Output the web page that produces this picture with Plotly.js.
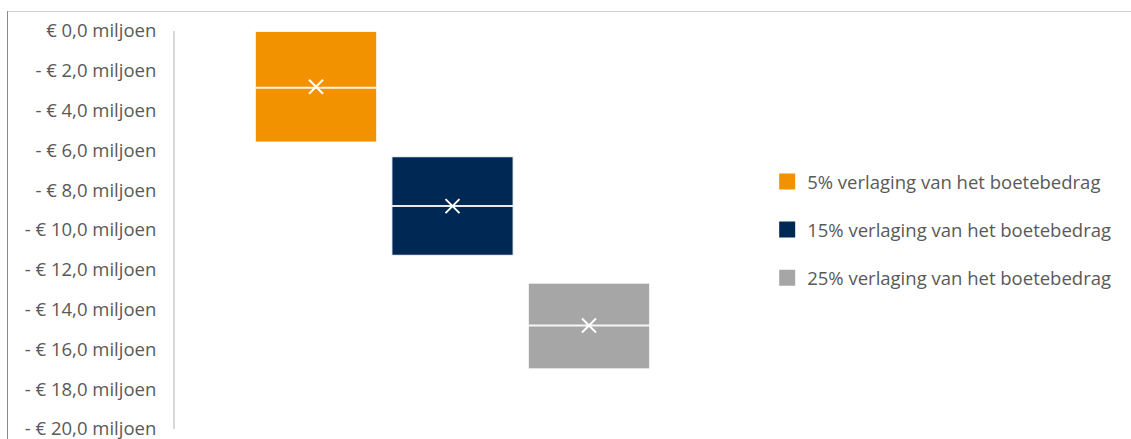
<!DOCTYPE html>
<html>
<head>
<meta charset="utf-8">
<script src="https://cdn.plot.ly/plotly-3.0.1.min.js"></script>
<style>
  html, body { margin: 0; padding: 0; background: #fff; }
  #wrap { position: relative; width: 1131px; height: 439px; overflow: hidden; }
  #chart { width: 1131px; height: 439px; }
  #frameTop { position: absolute; left: 7px; top: 11px; width: 1124px; height: 0; border-top: 1px solid #d0d0d0; }
  #frameLeft { position: absolute; left: 7px; top: 11px; width: 0; height: 428px; border-left: 1px solid #8a8a8a; }
</style>
</head>
<body>
<div id="wrap">
  <div id="chart"></div>
  <div id="frameTop"></div>
  <div id="frameLeft"></div>
</div>
<script>
// Series (values in millions of euros)
const seriesNames = ["5% verlaging van het boetebedrag", "15% verlaging van het boetebedrag", "25% verlaging van het boetebedrag"];
const seriesColors = ["#F39200", "#002855", "#A6A6A6"];
const q1Values = [-5.6, -11.3, -17.0];
const medianValues = [-2.85, -8.8, -14.8];
const q3Values = [0.0, -6.3, -12.65];
const meanValues = [-2.8, -8.8, -14.8];
const lowerFences = [-5.6, -11.3, -17.0];
const upperFences = [0.0, -6.3, -12.65];

// Y ticks
const tickValues = [0, -2, -4, -6, -8, -10, -12, -14, -16, -18, -20];
const tickLabels = ["€ 0,0 miljoen", "- € 2,0 miljoen", "- € 4,0 miljoen", "- € 6,0 miljoen", "- € 8,0 miljoen",
  "- € 10,0 miljoen", "- € 12,0 miljoen", "- € 14,0 miljoen", "- € 16,0 miljoen", "- € 18,0 miljoen", "- € 20,0 miljoen"];

const traces = [];
seriesNames.forEach((name, i) => {
  traces.push({
    type: "box",
    name: name,
    x: [name],
    q1: [q1Values[i]],
    median: [medianValues[i]],
    q3: [q3Values[i]],
    lowerfence: [lowerFences[i]],
    upperfence: [upperFences[i]],
    width: 0.895,
    fillcolor: seriesColors[i],
    line: { color: "rgba(255,255,255,0.9)", width: 2 },
    whiskerwidth: 0,
    boxpoints: false,
    showlegend: false,
    hoverinfo: "skip"
  });
});
traces.push({
  type: "scatter",
  mode: "markers",
  x: seriesNames,
  y: meanValues,
  marker: { symbol: "x-thin", size: 14, line: { color: "#ffffff", width: 2 }, color: "#ffffff" },
  showlegend: false,
  hoverinfo: "skip"
});
// legend entries (square swatches)
seriesNames.forEach((name, i) => {
  traces.push({
    type: "scatter",
    mode: "markers",
    name: name,
    x: [null],
    y: [null],
    marker: { symbol: "square", size: 16, color: seriesColors[i], line: { width: 0 } },
    legendgroup: "g" + i,
    showlegend: true,
    hoverinfo: "skip"
  });
});

const layout = {
  width: 1131,
  height: 439,
  margin: { l: 175, r: 401, t: 31, b: 10 },
  paper_bgcolor: "#ffffff",
  plot_bgcolor: "#ffffff",
  font: { family: "Open Sans, Liberation Sans, sans-serif", color: "#595959", size: 18 },
  boxmode: "overlay",
  showlegend: true,
  legend: {
    x: 1.067, xanchor: "left",
    y: 0.5, yanchor: "middle",
    traceorder: "grouped",
    tracegroupgap: 21,
    itemsizing: "trace",
    font: { size: 18.5, color: "#595959" },
    itemwidth: 30,
    bgcolor: "rgba(0,0,0,0)"
  },
  xaxis: {
    type: "category",
    range: [-1.033, 3.033],
    showticklabels: false,
    showgrid: false,
    zeroline: false,
    showline: false,
    ticks: ""
  },
  yaxis: {
    range: [-20, 0],
    tickvals: tickValues,
    ticktext: tickLabels,
    showgrid: false,
    zeroline: false,
    showline: true,
    linecolor: "#d9d9d9",
    linewidth: 2,
    ticks: "",
    ticklabelstandoff: 13,
    ticklabeloverflow: "allow",
    tickfont: { size: 18.5, color: "#595959" }
  }
};

Plotly.newPlot("chart", traces, layout, { displayModeBar: false, staticPlot: true });
</script>
</body>
</html>
